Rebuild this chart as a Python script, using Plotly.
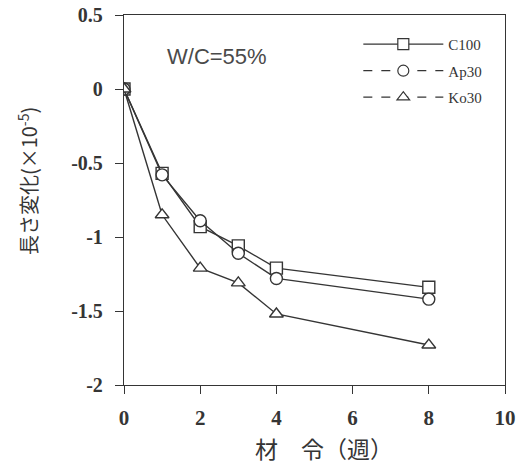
import plotly.graph_objects as go

# Age in weeks and length change (x10^-5) for each mix
weeks = [0, 1, 2, 3, 4, 8]
c100 = [0, -0.57, -0.93, -1.06, -1.21, -1.34]
ap30 = [0, -0.58, -0.89, -1.11, -1.28, -1.42]
ko30 = [0, -0.85, -1.21, -1.31, -1.52, -1.73]

series_names = ["C100", "Ap30", "Ko30"]
series_values = [c100, ap30, ko30]
symbols = ["square", "circle", "triangle-up"]
legend_dash = ["solid", "dash", "dash"]

x_ticks = [0, 2, 4, 6, 8, 10]
y_ticks = [0.5, 0, -0.5, -1, -1.5, -2]

ink = "#353535"

fig = go.Figure()

for name, vals, sym in zip(series_names, series_values, symbols):
    fig.add_trace(go.Scatter(
        x=weeks, y=vals, mode="lines+markers", showlegend=False,
        line=dict(color=ink, width=1.4),
        marker=dict(symbol=sym, size=12, color="white",
                    line=dict(color=ink, width=1.4)),
        name=name,
    ))

# Legend entries (dashed keys for the admixture mixes)
for name, sym, dash in zip(series_names, symbols, legend_dash):
    fig.add_trace(go.Scatter(
        x=[None], y=[None], mode="lines+markers", name=name, legendgroup=name,
        line=dict(color=ink, width=1.2, dash=dash),
        marker=dict(symbol=sym, size=11, color="white",
                    line=dict(color=ink, width=1.2)),
    ))

fig.add_annotation(
    text="W/C=55%", xref="paper", yref="paper", x=0.244, y=0.889,
    xanchor="center", yanchor="middle",
    showarrow=False, font=dict(family="Liberation Sans", size=22, color="#4a4a4a"),
)

# Axis titles, placed as free text beside the axes
fig.add_annotation(
    text="長さ変化(×10<sup>-5</sup>)", xref="paper", yref="paper",
    x=-0.252, y=0.551, xanchor="center", yanchor="middle", textangle=-90,
    showarrow=False, font=dict(family="Noto Sans CJK JP", size=20, color=ink),
)
fig.add_annotation(
    text="材　令（週）", xref="paper", yref="paper",
    x=0.525, y=-0.17, xanchor="center", yanchor="middle",
    showarrow=False, font=dict(family="Noto Sans CJK JP", size=23, color=ink),
)

fig.update_layout(
    width=517, height=472,
    margin=dict(l=124, r=12, t=15, b=87),
    paper_bgcolor="white", plot_bgcolor="white",
    showlegend=True,
    legend=dict(
        x=0.615, y=0.965, xanchor="left", yanchor="top",
        font=dict(family="Liberation Serif", size=15, color=ink),
        bgcolor="rgba(0,0,0,0)", itemwidth=80, tracegroupgap=4,
    ),
    xaxis=dict(
        range=[0, 10], tickvals=x_ticks, ticktext=[str(v) for v in x_ticks],
        ticks="outside", ticklen=8, tickwidth=1.4, tickcolor=ink,
        showline=True, linecolor=ink, linewidth=1.4, mirror=True,
        showgrid=False, zeroline=False, automargin=False, ticklabelstandoff=6,
        tickfont=dict(family="Liberation Serif", size=21, color=ink, weight="bold"),
    ),
    yaxis=dict(
        range=[-2, 0.5], tickvals=y_ticks, ticktext=["0.5", "0", "-0.5", "-1", "-1.5", "-2"],
        ticks="outside", ticklen=8, tickwidth=1.4, tickcolor=ink,
        showline=True, linecolor=ink, linewidth=1.4, mirror=True,
        showgrid=False, zeroline=False, automargin=False, ticklabelstandoff=8,
        tickfont=dict(family="Liberation Serif", size=20, color=ink, weight="bold"),
    ),
)

fig.write_html("out.html")
